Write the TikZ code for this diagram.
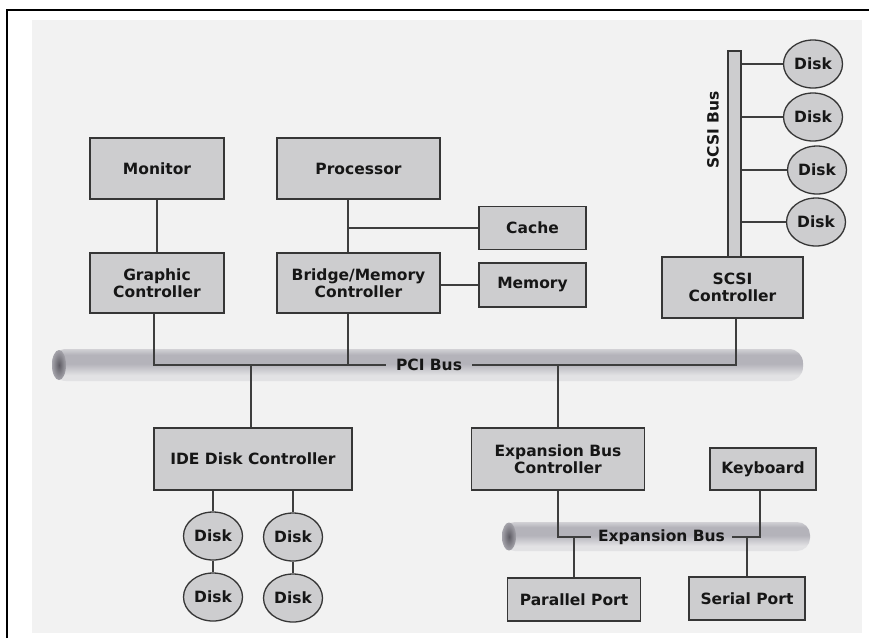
\documentclass[tikz,border=0pt]{standalone}
\usepackage{fontspec}
\setmainfont{DejaVu Sans}
\usetikzlibrary{shapes.geometric}

\definecolor{paper}{HTML}{F2F2F2}
\definecolor{boxfill}{HTML}{CDCDCF}
\definecolor{boxline}{HTML}{363636}
\definecolor{wire}{HTML}{3E3E3E}
\definecolor{ink}{HTML}{161616}
\definecolor{busdark}{HTML}{8E8C94}
\definecolor{buslight}{HTML}{E2E2E4}
\definecolor{busmid}{HTML}{B4B3BA}
\definecolor{capdark}{HTML}{5E5C64}
\definecolor{capmid}{HTML}{A4A3AA}

% tube shading for the two buses (positions run bottom to top)
\pgfdeclareverticalshading{tube}{100bp}{%
  color(0bp)=(busdark); color(18bp)=(buslight); color(34bp)=(buslight);
  color(52bp)=(busmid); color(66bp)=(busmid); color(80bp)=(buslight);
  color(100bp)=(busdark)}

\tikzset{
  lbl/.style={font=\fontsize{15.5}{17}\selectfont\bfseries, text=ink, align=center},
  box/.style={lbl, draw=boxline, fill=boxfill, line width=1.3pt, inner sep=0pt},
  disk/.style={lbl, ellipse, draw=boxline, fill=boxfill, line width=1.3pt,
    inner sep=0pt, minimum width=59pt, minimum height=48pt},
  wire/.style={draw=wire, line width=1.5pt},
  buslbl/.style={lbl, inner ysep=0pt},
}

\begin{document}
\begin{tikzpicture}[x=1pt, y=-1pt]
\useasboundingbox (0,0) rectangle (869,638);

% scanned page and frame
\fill[paper] (32,20) rectangle (862,633);
\draw[line width=2pt, black] (7,638) -- (7,10) -- (869,10);

% PCI bus tube
\shade[shading=tube, rounded corners=14pt] (52,349) rectangle (803,381);
\shade[inner color=capdark, outer color=capmid] (59,365) ellipse [x radius=7, y radius=15];

% Expansion bus tube
\shade[shading=tube, rounded corners=13pt] (502,522) rectangle (810,551);
\shade[inner color=capdark, outer color=capmid] (509,536.5) ellipse [x radius=7, y radius=14];

% upper row
\node[box, minimum width=134pt, minimum height=61pt] (monitor)   at (157,168.5) {Monitor};
\node[box, minimum width=163pt, minimum height=61pt] (processor) at (358.5,168.5) {Processor};
\node[box, minimum width=134pt, minimum height=60pt] (graphic)   at (157,283) {Graphic\\Controller};
\node[box, minimum width=163pt, minimum height=60pt] (bridge)    at (358.5,283) {Bridge/Memory\\Controller};
\node[box, minimum width=107pt, minimum height=43pt] (cache)     at (532.5,228) {Cache};
\node[box, minimum width=107pt, minimum height=44pt] (memory)    at (532.5,285) {Memory};

% SCSI side
\node[draw=boxline, fill=boxfill, line width=1.3pt, inner sep=0pt,
      minimum width=13pt, minimum height=206pt] (scsibus) at (734.5,154) {};
\node[lbl, rotate=90] (scsilabel) at (713,130) {SCSI Bus};
\node[box, minimum width=141pt, minimum height=61pt] (scsictl) at (732.5,287.5) {SCSI\\Controller};
\node[disk] (sd1) at (813,64)  {Disk};
\node[disk] (sd2) at (813,117) {Disk};
\node[disk] (sd3) at (817,170) {Disk};
\node[disk] (sd4) at (816,222) {Disk};

% lower row
\node[box, minimum width=198pt, minimum height=62pt] (idectl)   at (253,459) {IDE Disk Controller};
\node[box, minimum width=173pt, minimum height=62pt] (expctl)   at (558,459) {Expansion Bus\\Controller};
\node[box, minimum width=106pt, minimum height=42pt] (keyboard) at (763,469) {Keyboard};
\node[box, minimum width=133pt, minimum height=43pt] (parallel) at (574,599.5) {Parallel Port};
\node[box, minimum width=116pt, minimum height=43pt] (serial)   at (747,598.5) {Serial Port};

\node[disk] (id1) at (213,536) {Disk};
\node[disk] (id2) at (213,597) {Disk};
\node[disk] (id3) at (293,537) {Disk};
\node[disk] (id4) at (293,598) {Disk};

% bus labels
\node[buslbl, inner xsep=10pt] (pcilabel) at (429,365) {PCI Bus};
\node[buslbl, inner xsep=7pt]  (explabel) at (661.5,537) {Expansion Bus};

% processor side wiring
\coordinate (ptap) at ([xshift=-10.5pt]processor.south);
\coordinate (btap) at ([xshift=-10.5pt]bridge.north);
\coordinate (bbot) at ([xshift=-10.5pt]bridge.south);
\draw[wire] (monitor.south) -- (graphic.north);
\draw[wire] (ptap) -- (btap);
\draw[wire] (cache.west -| ptap) -- (cache.west);
\draw[wire] (memory.west -| bridge.east) -- (memory.west);

% PCI bus wiring
\draw[wire] ([xshift=-3pt]graphic.south) |- (pcilabel.west);
\draw[wire] (bbot) -- (bbot |- pcilabel.west);
\draw[wire] (pcilabel.east) -| ([xshift=3.5pt]scsictl.south);
\draw[wire] ([xshift=-2pt]idectl.north) -- ([xshift=-2pt]idectl.north |- pcilabel.west);
\draw[wire] (expctl.north) -- (expctl.north |- pcilabel.west);

% SCSI disks
\foreach \d in {sd1,sd2,sd3,sd4}
  \draw[wire] (\d.west -| scsibus.east) -- (\d.west);

% IDE disks
\draw[wire] (id1.north |- idectl.south) -- (id1.north);
\draw[wire] (id1.south) -- (id2.north);
\draw[wire] (id3.north |- idectl.south) -- (id3.north);
\draw[wire] (id3.south) -- (id4.north);

% expansion bus wiring
\draw[wire] (expctl.south) |- (explabel.west);
\draw[wire] (explabel.east) -| ([xshift=-3pt]keyboard.south);
\draw[wire] (parallel.north) -- (parallel.north |- explabel.west);
\draw[wire] (serial.north) -- (serial.north |- explabel.east);
\end{tikzpicture}
\end{document}
